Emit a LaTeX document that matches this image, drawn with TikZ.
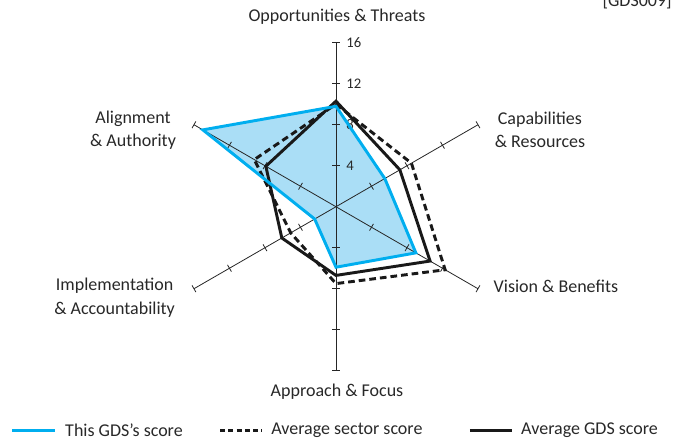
\documentclass[tikz,border=0pt]{standalone}
\usepackage{fontspec}
\setmainfont{Carlito}
\usetikzlibrary{positioning,calc}
\definecolor{gdsblue}{RGB}{0,174,239}
\definecolor{gdsfill}{RGB}{170,222,246}
\definecolor{gdstext}{RGB}{40,40,40}

\begin{document}
\begin{tikzpicture}[x=7.6875pt,y=7.6875pt,
	lbl/.style={font=\fontsize{13.5}{17.5}\selectfont,align=center,text=gdstext,inner sep=0pt},
	ticklbl/.style={font=\fontsize{11}{13}\selectfont,anchor=west,text=gdstext,inner sep=0pt},
	axisline/.style={draw=black!85,line width=0.6pt},
	thisgds/.style={draw=gdsblue,line width=2.2pt,line join=miter},
	sector/.style={draw=black!90,line width=2.2pt,dash pattern=on 5pt off 3pt,line join=miter},
	average/.style={draw=black!90,line width=2.2pt,line join=miter}]
	\useasboundingbox (-32.78,-22.86) rectangle (32.98,20.17);
	
	\coordinate (O) at (0,0);
	\foreach \a/\n in {90/opp,30/cap,-30/vis,-90/app,210/imp,150/ali}
		\coordinate (\n) at (\a:16);
	
	\fill[gdsfill] (90:9.8)--(30:5.5)--(-30:9.0)--(-90:5.9)--(210:2.4)--(150:15)--cycle;
	
	\foreach \a/\n in {90/opp,30/cap,-30/vis,-90/app,210/imp,150/ali}{
		\draw[axisline] (O)--(\n);
		\foreach \t in {4,8,12,16}
			\draw[axisline,shift={(\a:\t)},rotate=\a] (0,-0.38)--(0,0.38);
	}
	
	\foreach \t in {4,8,12,16}
		\node[ticklbl] (t\t) at (1.0,\t) {\t};
	
	\draw[sector] (90:10.0)--(30:8.5)--(-30:12.3)--(-90:7.5)--(210:5.1)--(150:9.2)--cycle;
	\draw[average] (90:10.3)--(30:7.2)--(-30:10.6)--(-90:6.7)--(210:6.1)--(150:7.9)--cycle;
	\draw[thisgds] (90:9.8)--(30:5.5)--(-30:9.0)--(-90:5.9)--(210:2.4)--(150:15)--cycle;
	
	\node[lbl] (optext) at (0.1,18.5) {Opportunities \& Threats};
	\node[lbl] (captext) at (19.9,7.48) {Capabilities\\\& Resources};
	\node[lbl] (vistext) at (21.46,-7.74) {Vision \& Benefits};
	\node[lbl] (apptext) at (0.1,-18.08) {Approach \& Focus};
	\node[lbl] (imptext) at (-21.6,-8.86) {Implementation\\\& Accountability};
	\node[lbl] (alitext) at (-19.8,7.48) {Alignment\\\& Authority};
	\node[lbl,anchor=base east] (code) at (32.78,19.49) {[GDS009]};
	
	\coordinate (k1a) at (-31.6,-21.8);
	\coordinate (k1b) at (-27.4,-21.8);
	\draw[thisgds] (k1a)--(k1b);
	\node[lbl,anchor=west] (k1) at (-26.44,-21.8) {This GDS's score};
	
	\coordinate (k2a) at (-11.3,-21.8);
	\coordinate (k2b) at (-7.22,-21.8);
	\draw[sector,dash pattern=on 3.8pt off 2.4pt] (k2a)--(k2b);
	\node[lbl,anchor=west] (k2) at (-6.34,-21.8) {Average sector score};
	
	\coordinate (k3a) at (13.07,-21.8);
	\coordinate (k3b) at (17.17,-21.8);
	\draw[average] (k3a)--(k3b);
	\node[lbl,anchor=west] (k3) at (18.05,-21.8) {Average GDS score};
\end{tikzpicture}
\end{document}
